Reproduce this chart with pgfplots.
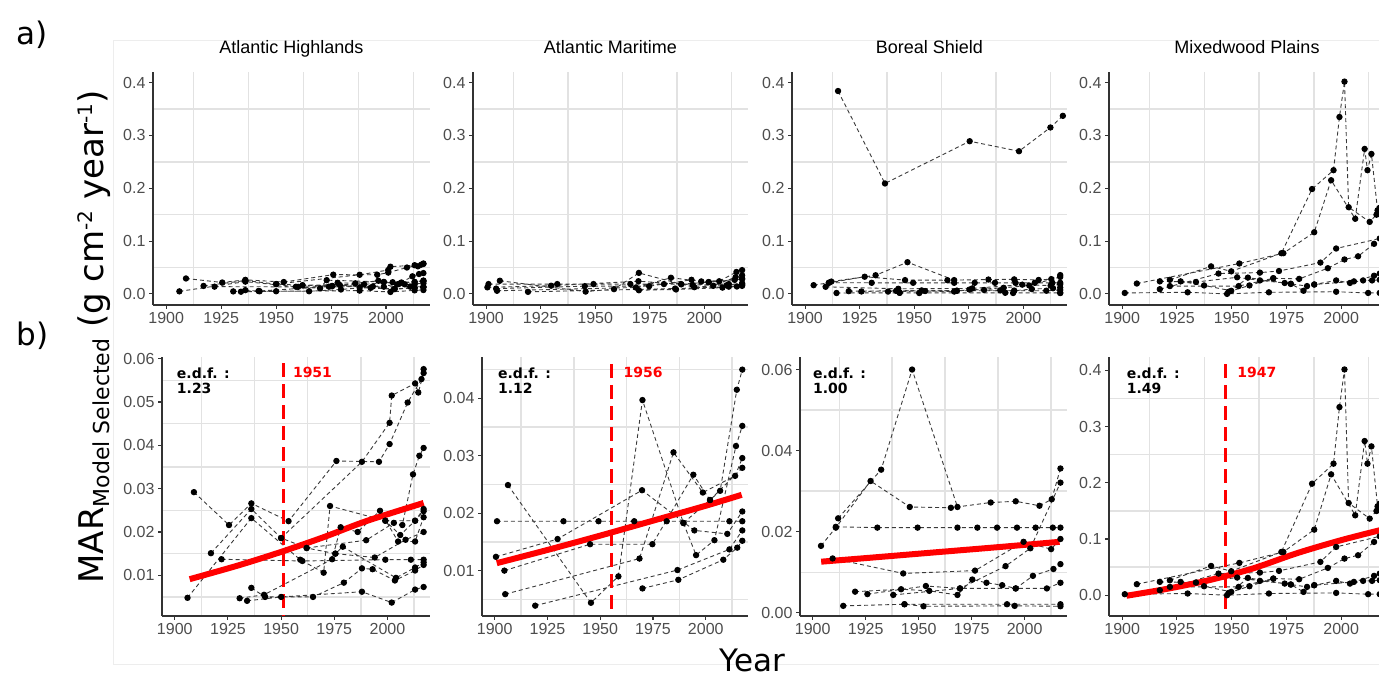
\documentclass[border=0pt]{standalone}
\usepackage{fontspec}
\setmainfont{Liberation Sans}
\newfontfamily\dejavu{DejaVu Sans}
\usepackage{pgfplots}
\usepackage{pgfplotstable}
\pgfplotsset{compat=1.18}

\definecolor{axcol}{HTML}{333333}
\definecolor{tickcol}{HTML}{4D4D4D}
\definecolor{gridcol}{HTML}{E2E2E2}
\definecolor{dashcol}{HTML}{3A3A3A}
\definecolor{gamred}{HTML}{FF0000}

\newcommand\ticksz{\fontsize{16}{16}\selectfont}
\newcommand\titlesz{\fontsize{18}{18}\selectfont}
\newcommand\edfsz{\dejavu\bfseries\fontsize{14}{15}\selectfont}

% one table per region, lakes separated by nan rows
\pgfplotstableread{
x y
1909 0.0292
1925.5 0.0216
1936 0.0266
1953.5 0.0225
1976 0.0364
1996 0.0362
2001 0.0403
2009.5 0.0499
2016 0.0553
2017 0.0576
nan nan
1922 0.0137
1960 0.0133
1999 0.0136
2011 0.0136
2017 0.0136
nan nan
1917 0.0151
1936 0.0253
1950 0.0186
1962 0.0163
1975.5 0.0150
1979 0.0166
2004 0.0094
2013 0.0118
2017 0.0130
nan nan
1906 0.0048
1936 0.0232
1959 0.0136
1970 0.0106
1973 0.0260
1999 0.0226
2006 0.0193
2013 0.0226
2017 0.0253
nan nan
1930.5 0.0047
1942 0.0055
1974 0.0137
1978 0.0211
1986 0.0200
1996.5 0.0249
2005 0.0178
2013 0.0178
2017 0.0234
nan nan
1934 0.0041
1950 0.0050
1988 0.0062
2002 0.0037
2013 0.0067
2017 0.0073
nan nan
1936 0.0071
1942.5 0.0050
1965 0.0050
1979.5 0.0083
1988 0.0116
1993 0.0114
2003.5 0.0088
2013 0.0111
2017 0.0124
nan nan
1950 0.0186
1988 0.0362
2001 0.0452
2002 0.0515
2013 0.0543
2014.5 0.0522
2017 0.0567
nan nan
1962 0.0163
1990 0.0181
2003 0.0221
2007 0.0216
2012 0.0333
2015 0.0376
2017 0.0394
nan nan
1975.5 0.0150
1994 0.0141
2008.5 0.0182
2017 0.0200
nan nan
1999 0.0226
2013 0.0226
2017 0.0248
}\tabAH

\pgfplotstableread{
x y
1901.1 0.0186
1932.6 0.0186
1949.2 0.0186
1966.1 0.0186
1981.5 0.0186
2011.2 0.0186
2017.3 0.0186
nan nan
1906.3 0.0249
1945.6 0.0044
1958.6 0.0090
1970.0 0.0397
1989.4 0.0183
1995.4 0.0127
2004.1 0.0153
2014.3 0.0317
2017.3 0.0352
nan nan
1900.6 0.0124
1929.8 0.0155
1969.8 0.0240
1994.6 0.0170
2010.2 0.0164
2017.3 0.0203
nan nan
1904.6 0.0100
1945.2 0.0146
1974.7 0.0146
1994.1 0.0267
2002.0 0.0223
2006.8 0.0239
2014.7 0.0415
2017.3 0.0450
nan nan
1905.0 0.0059
1968.6 0.0121
1984.7 0.0306
1998.6 0.0236
2013.9 0.0265
2017.3 0.0296
nan nan
1919.2 0.0039
1986.6 0.0101
2011.2 0.0137
2017.3 0.0170
nan nan
1970.0 0.0069
1987.0 0.0084
2008.3 0.0119
2014.9 0.0140
2017.3 0.0152
nan nan
1989.4 0.0183
2002.0 0.0223
2017.3 0.0279
}\tabAM

\pgfplotstableread{
x y
1903.9 0.0165
1910.9 0.0210
1927.3 0.0325
1945.8 0.0261
1965.2 0.0259
1984.0 0.0272
1995.8 0.0275
2007.0 0.0264
2012.8 0.0280
2016.9 0.0356
nan nan
1912.0 0.0233
1932.3 0.0353
1946.9 0.0600
1968.3 0.0261
nan nan
1910.9 0.0212
1930.5 0.0210
1949.5 0.0210
1968.3 0.0210
1977.7 0.0210
1987.0 0.0210
1996.4 0.0210
2005.2 0.0210
2013.3 0.0210
2016.9 0.0210
nan nan
1909.4 0.0134
1942.7 0.0097
1976.6 0.0104
1999.5 0.0175
2012.5 0.0157
2016.9 0.0182
nan nan
1925.8 0.0046
1953.4 0.0066
1969.5 0.0060
1991.0 0.0115
2002.7 0.0159
2016.9 0.0321
nan nan
1920.0 0.0052
1941.7 0.0058
1955.0 0.0054
1968.3 0.0044
1975.3 0.0082
1982.0 0.0074
1989.4 0.0068
1995.8 0.0060
2003.9 0.0091
2013.6 0.0108
2016.9 0.0120
nan nan
1938.0 0.0044
1969.5 0.0060
1995.8 0.0060
2010.5 0.0060
2016.9 0.0074
nan nan
1914.4 0.0017
1943.3 0.0021
1952.3 0.0016
1995.3 0.0017
2016.9 0.0016
nan nan
1943.3 0.0021
1991.7 0.0021
2016.9 0.0021
}\tabBS

% the one Boreal Shield lake that is left out of the selected model
\pgfplotstableread{
x y
1915.1 0.384
1936.6 0.209
1975.4 0.289
1998.0 0.270
2012.4 0.315
2018.1 0.337
}\tabBSout

\pgfplotstableread{
x y
1921.8 0.0267
1940.6 0.0521
1949.8 0.0427
1972.7 0.0770
1986.7 0.1985
1996.5 0.2341
1999.2 0.3348
2001.5 0.4018
2003.4 0.1641
2013.0 0.1363
2016.1 0.1499
2017.6 0.1630
nan nan
1906.7 0.0196
1953.5 0.0575
1973.6 0.0770
1987.7 0.1167
1995.4 0.2151
2006.4 0.1422
2010.7 0.2744
2012.0 0.2341
2013.8 0.2649
2016.6 0.1582
nan nan
1917.2 0.0089
1944.0 0.0385
1962.9 0.0403
1971.6 0.0433
1990.5 0.0593
1997.7 0.0859
2017.6 0.1049
nan nan
1921.8 0.0148
1953.2 0.0148
1969.0 0.0296
1980.8 0.0284
1993.9 0.0486
2001.5 0.0652
2007.7 0.0711
2015.0 0.0948
nan nan
1901.2 0.0018
1929.9 0.0030
1947.9 0.0000
1967.0 0.0030
1997.7 0.0041
2012.3 0.0018
2017.6 0.0018
nan nan
1917.2 0.0237
1933.7 0.0225
1952.5 0.0314
1962.9 0.0255
1974.2 0.0207
1977.0 0.0190
1984.4 0.0148
1987.7 0.0178
1997.7 0.0255
2004.0 0.0207
2010.0 0.0255
2014.1 0.0255
2017.6 0.0267
nan nan
1926.7 0.0237
1937.4 0.0160
1949.8 0.0059
1957.4 0.0308
1977.0 0.0190
1982.8 0.0059
1987.7 0.0178
2005.8 0.0237
2015.0 0.0344
2017.6 0.0385
nan nan
1948.6 0.0041
1958.1 0.0160
1969.0 0.0296
}\tabMP

\pgfplotsset{
  panel/.style={
    scale only axis, anchor=south west,
    xmin=1894, xmax=2020,
    axis lines=left,
    axis line style={-, draw=axcol, line width=1.1pt},
    tick align=outside, major tick length=4pt,
    tick style={draw=axcol, line width=1.1pt},
    xtick={1900,1925,1950,1975,2000},
    minor xtick={1912.5,1937.5,1962.5,1987.5,2012.5},
    minor tick length=0pt,
    xminorgrids=true, yminorgrids=true,
    minor grid style={draw=gridcol, line width=1.4pt},
    tick label style={font=\ticksz, text=tickcol},
    /pgf/number format/assume math mode=true,
    /pgf/number format/1000 sep={},
    scaled y ticks=false,
    unbounded coords=jump,
  },
  yprec/.style={yticklabel style={/pgf/number format/.cd, fixed, fixed zerofill, precision=#1}},
  toprow/.style={
    height=233pt, ymin=-0.021, ymax=0.42,
    ytick={0,0.1,0.2,0.3,0.4}, minor ytick={0.05,0.15,0.25,0.35}, yprec=1,
    title style={font=\titlesz, text=black, anchor=base, at={(0.5,1)}, yshift=12pt, inner sep=0pt},
  },
  botrow/.style={height=259pt},
  lake/.style={draw=dashcol, line width=0.9pt, dash pattern=on 4pt off 3pt,
    mark=*, mark size=2.7pt, mark options={solid, fill=black, draw=black}},
  gam/.style={draw=gamred, line width=6pt, no marks, smooth},
  brk/.style={draw=gamred, line width=3.2pt, dash pattern=on 14pt off 7pt, no marks},
}

\begin{document}
\begin{tikzpicture}
\useasboundingbox (0pt,0pt) rectangle (1379pt,677pt);
\begin{scope}
\clip (0pt,0pt) rectangle (1379pt,677pt);
\draw[draw=black!7, line width=1pt] (113pt,636pt) rectangle (1400pt,12pt);

% ---- a) all lakes, common y scale
\begin{axis}[panel, toprow, at={(153pt,372pt)}, width=277pt, title={Atlantic Highlands}]
\addplot[lake] table {\tabAH};
\end{axis}
\begin{axis}[panel, toprow, at={(473pt,372pt)}, width=275pt, title={Atlantic Maritime}]
\addplot[lake] table {\tabAM};
\end{axis}
\begin{axis}[panel, toprow, at={(792pt,372pt)}, width=275pt, title={Boreal Shield}]
\addplot[lake] table {\tabBS};
\addplot[lake] table {\tabBSout};
\end{axis}
\begin{axis}[panel, toprow, at={(1109pt,372pt)}, width=276pt, title={Mixedwood Plains}]
\addplot[lake] table {\tabMP};
\end{axis}

% ---- b) selected lakes with GAM fits
\begin{axis}[panel, botrow, at={(162pt,61pt)}, width=268pt,
  ymin=0.0006, ymax=0.0604, ytick={0.01,0.02,0.03,0.04,0.05,0.06},
  minor ytick={0.005,0.015,0.025,0.035,0.045,0.055}, yprec=2]
\addplot[lake] table {\tabAH};
\addplot[gam] coordinates {(1907,0.0091) (1930,0.0123) (1950,0.0154) (1970,0.0188) (1990,0.0225) (2017,0.0267)};
\addplot[brk] coordinates {(1951,0.0589) (1951,0.0006)};
\node[anchor=north west, inner sep=0pt, align=left, font=\edfsz] at (rel axis cs:0.055,0.96) {e.d.f. :\\1.23};
\node[anchor=north west, inner sep=0pt, font=\edfsz, text=gamred] at (axis cs:1955.5,0.0580) {1951};
\end{axis}

\begin{axis}[panel, botrow, at={(482pt,61pt)}, width=266pt,
  ymin=0.0021, ymax=0.0472, ytick={0.01,0.02,0.03,0.04},
  minor ytick={0.005,0.015,0.025,0.035,0.045}, yprec=2]
\addplot[lake] table {\tabAM};
\addplot[gam] coordinates {(1901,0.0113) (1925,0.0136) (1950,0.0161) (1975,0.0187) (2000,0.0213) (2017,0.0232)};
\addplot[brk] coordinates {(1955.5,0.0460) (1955.5,0.0021)};
\node[anchor=north west, inner sep=0pt, align=left, font=\edfsz] at (rel axis cs:0.06,0.96) {e.d.f. :\\1.12};
\node[anchor=north west, inner sep=0pt, font=\edfsz, text=gamred] at (axis cs:1961,0.0454) {1956};
\end{axis}

\begin{axis}[panel, botrow, at={(800pt,61pt)}, width=267pt,
  ymin=-0.0008, ymax=0.0631, ytick={0,0.02,0.04,0.06},
  minor ytick={0.01,0.03,0.05}, yprec=2]
\addplot[lake] table {\tabBS};
\addplot[gam] coordinates {(1904,0.0126) (1930,0.0137) (1960,0.0150) (1990,0.0163) (2016.5,0.0175)};
\node[anchor=north west, inner sep=0pt, align=left, font=\edfsz] at (rel axis cs:0.048,0.96) {e.d.f. :\\1.00};
\end{axis}

\begin{axis}[panel, botrow, at={(1109pt,61pt)}, width=276pt,
  ymin=-0.037, ymax=0.424, ytick={0,0.1,0.2,0.3,0.4},
  minor ytick={0.05,0.15,0.25,0.35}, yprec=1]
\addplot[lake] table {\tabMP};
\addplot[gam] coordinates {(1902,-0.001) (1920,0.011) (1940,0.027) (1960,0.048) (1980,0.075) (2000,0.098) (2020,0.118)};
\addplot[brk] coordinates {(1947,0.4107) (1947,-0.037)};
\node[anchor=north west, inner sep=0pt, align=left, font=\edfsz] at (rel axis cs:0.064,0.96) {e.d.f. :\\1.49};
\node[anchor=north west, inner sep=0pt, font=\edfsz, text=gamred] at (axis cs:1952.5,0.4056) {1947};
\end{axis}

% ---- panel letters and shared axis titles
\node[anchor=base west, font=\dejavu\fontsize{31}{31}\selectfont] at (13pt,632pt) {a)};
\node[anchor=base west, font=\dejavu\fontsize{31}{31}\selectfont] at (13pt,331pt) {b)};
\node[rotate=90, anchor=base, font=\dejavu\fontsize{34}{34}\selectfont] at (103pt,340pt)
  {MAR\raisebox{-6pt}{\fontsize{22}{22}\selectfont Model Selected} (g cm\raisebox{11pt}{\fontsize{20}{20}\selectfont -2} year\raisebox{11pt}{\fontsize{20}{20}\selectfont -1})};
\node[anchor=base, font=\dejavu\fontsize{31}{31}\selectfont] at (752pt,5pt) {Year};
\end{scope}
\end{tikzpicture}
\end{document}
